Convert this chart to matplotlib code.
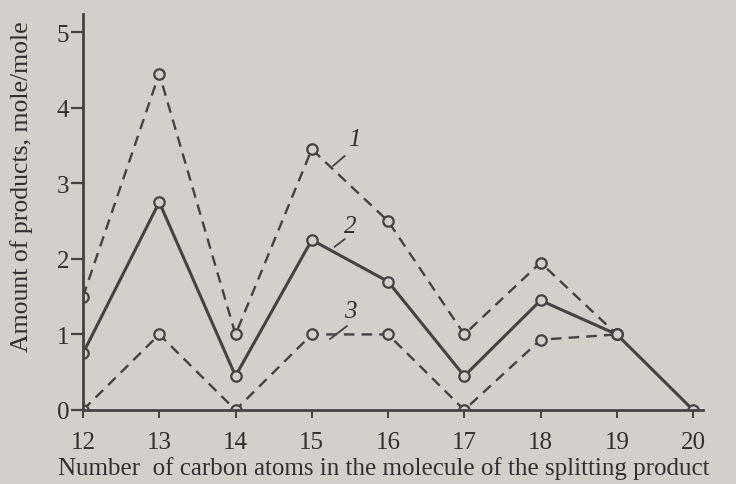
import matplotlib.pyplot as plt

plt.rcParams['font.family'] = ['Liberation Serif', 'DejaVu Serif']

carbon = [12, 13, 14, 15, 16, 17, 18, 19, 20]
curve1 = [1.5, 4.45, 1.0, 3.45, 2.5, 1.0, 1.95, 1.0]
curve2 = [0.75, 2.75, 0.45, 2.25, 1.7, 0.45, 1.45, 1.0, 0.0]
curve3 = [0.0, 1.0, 0.0, 1.0, 1.0, 0.0, 0.93, 1.0]

bg = "#d4cfcb"
ink = "#474242"
txt = "#332f2f"

fig = plt.figure(figsize=(7.36, 4.85), dpi=100, facecolor=bg)
ax = fig.add_axes([83 / 736, 74 / 485, 620 / 736, 396 / 485], facecolor=bg)

mk = dict(marker="o", markersize=7.5, markerfacecolor=bg, markeredgecolor=ink, markeredgewidth=1.6)
ax.plot(carbon[:8], curve1, color=ink, lw=1.7, dashes=(4.5, 3), **mk)
ax.plot(carbon[:8], curve3, color=ink, lw=1.7, dashes=(4.5, 3), **mk)
ax.plot(carbon, curve2, color=ink, lw=2.2, **mk)

# curve numbers with leader lines
ax.plot([15.28, 15.43], [3.23, 3.36], color=ink, lw=1.3)
ax.text(15.56, 3.58, "1", style="italic", fontsize=18, color=txt, ha="center", va="center")
ax.plot([15.30, 15.43], [2.16, 2.26], color=ink, lw=1.3)
ax.text(15.50, 2.43, "2", style="italic", fontsize=18, color=txt, ha="center", va="center")
ax.plot([15.24, 15.46], [0.94, 1.11], color=ink, lw=1.3)
ax.text(15.50, 1.31, "3", style="italic", fontsize=18, color=txt, ha="center", va="center")

ax.set_xlim(12, 20.13)
ax.set_ylim(0, 5.24)
ax.set_xticks(carbon)
ax.set_yticks([0, 1, 2, 3, 4, 5])
for s in ["top", "right"]:
    ax.spines[s].set_visible(False)
for s in ["left", "bottom"]:
    ax.spines[s].set_color(ink)
    ax.spines[s].set_linewidth(2.0)
ax.tick_params(axis="y", direction="out", length=9, width=1.6, color=ink, labelcolor=txt, labelsize=18, pad=1)
ax.tick_params(axis="x", direction="out", length=6, width=1.4, color=ink, labelcolor=txt, labelsize=18, pad=9)
ax.set_xlabel("Number  of carbon atoms in the molecule of the splitting product",
              fontsize=18, color=txt)
ax.set_ylabel("Amount of products, mole/mole", fontsize=18.5, color=txt)
ax.xaxis.set_label_coords(0.485, -0.115)
ax.yaxis.set_label_coords(-0.08, 0.566)

fig.savefig("out.png", dpi=100, facecolor=bg)
